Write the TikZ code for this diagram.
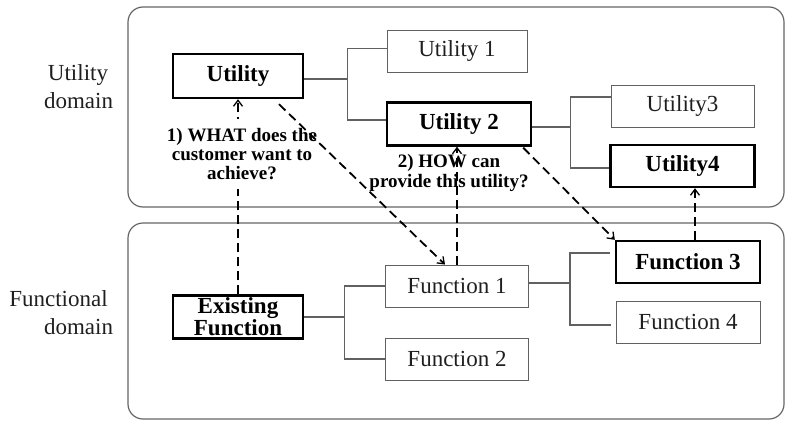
\documentclass[tikz,border=0pt]{standalone}
\usepackage{fontspec}
\setmainfont{Liberation Serif}
\usetikzlibrary{arrows.meta}

\begin{document}
\begin{tikzpicture}[x=1pt,y=-1pt,
  box/.style={draw=black!62, line width=0.9pt, minimum width=143pt, minimum height=42pt,
    inner sep=1pt, text=black!88, font=\fontsize{23}{26}\selectfont},
  keybox/.style={box, draw=black, line width=2.4pt, text=black,
    font=\fontsize{23}{22}\selectfont\bfseries},
  branch/.style={draw=black!62, line width=1.1pt},
  domainframe/.style={draw=black!60, line width=1.2pt, rounded corners=15pt},
  link/.style={line width=1.8pt, dash pattern=on 9pt off 5pt,
    -{Straight Barb[length=6pt,width=9pt,line width=1.3pt]}},
  question/.style={font=\fontsize{19}{19.3}\selectfont\bfseries, align=center, inner sep=0pt},
  side/.style={font=\fontsize{23}{28}\selectfont, anchor=base, inner sep=0pt, text=black!88}
]
\useasboundingbox (0,0) rectangle (786,420);

% domain frames
\draw[domainframe] (128,7) rectangle (784,207);
\draw[domainframe] (128,223) rectangle (784,419);

% domain captions
\node[side] (ut) at (78,80) {Utility};
\node[side] (ud) at (78.5,108) {domain};
\node[side] (fu) at (58.5,306) {Functional};
\node[side] (fd) at (78.5,334) {domain};

% utility hierarchy
\node[keybox, minimum width=130pt, minimum height=44pt] (U) at (238,76) {Utility};
\node[box, minimum width=140pt] (U1) at (457,51.5) {Utility 1};
\node[keybox, minimum width=144pt, minimum height=43pt] (U2) at (459,124) {Utility 2};
\node[box] (U3) at (682.5,106) {Utility3};
\node[keybox, minimum width=144pt] (U4) at (682.5,166) {Utility4};

% function hierarchy
\node[keybox, minimum width=130pt, minimum height=43pt, align=center] (EF) at (238,317) {Existing\\Function};
\node[box] (F1) at (457,286) {Function 1};
\node[box] (F2) at (457,359) {Function 2};
\node[keybox, minimum width=144pt] (F3) at (688,262) {Function 3};
\node[box, minimum width=144pt] (F4) at (688,322) {Function 4};

% tree branches
\draw[branch] ([yshift=-3pt]U.east) -- ++(43,0) coordinate (ju);
\draw[branch] ([yshift=3pt]U1.west) -| (ju) |- ([yshift=4pt]U2.west);
\draw[branch] ([yshift=-3pt]U2.east) -- ++(38,0) coordinate (j2);
\draw[branch] ([yshift=9pt]U3.west) -| (j2) |- ([yshift=-2pt]U4.west);
\draw[branch] (EF.east) -- ++(40,0) coordinate (je);
\draw[branch] (F1.west) -| (je) |- (F2.west);
\draw[branch] ([yshift=3pt]F1.east) -- ++(41,0) coordinate (j3);
\draw[branch] ([xshift=-5pt,yshift=9pt]F3.west) -| (j3) |- ([xshift=-5pt,yshift=-3pt]F4.west);

% mapping links
\draw[link] (EF.north) -- (U.south);
\node[question, fill=white, inner ysep=9pt, inner xsep=4pt] (Q1) at (242,154)
  {1) WHAT does the\\customer want to\\achieve?};
\draw[link] ([xshift=41pt,yshift=-5pt]U.south) -- ([xshift=-12pt]F1.north);
\node[question] (Q2) at (449,173) {2) HOW can\\provide this utility?};
\draw[link] (F1.north) -- (F1.north |- U2.south);
\draw[link] ([xshift=-9pt,yshift=-1pt]U2.south east) -- (F3.north west);
\draw[link] ([xshift=7pt]F3.north) -- ([xshift=7pt]F3.north |- U4.south);
\end{tikzpicture}
\end{document}
